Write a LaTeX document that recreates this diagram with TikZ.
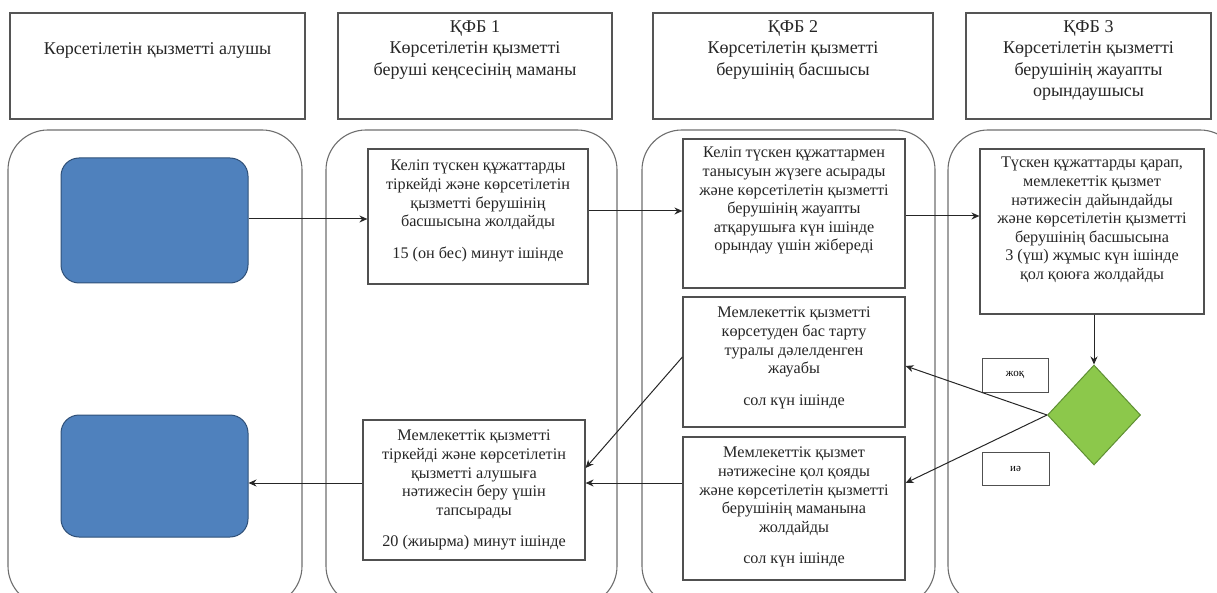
\documentclass[tikz,border=0pt]{standalone}
\usepackage{fontspec}
\setmainfont{Liberation Serif}
\usetikzlibrary{arrows.meta,shapes.geometric}
\definecolor{laneg}{HTML}{6E6E6E}
\definecolor{hdrg}{HTML}{555555}
\definecolor{boxg}{HTML}{505050}
\definecolor{bluef}{HTML}{4F81BD}
\definecolor{blued}{HTML}{2F5078}
\definecolor{greenf}{HTML}{8CC84B}
\definecolor{greend}{HTML}{5E8F33}
\tikzset{
  lane/.style={draw=laneg, line width=1.1pt, rounded corners=40pt},
  hdr/.style={draw=hdrg, line width=1.4pt, fill=white, inner sep=0pt},
  stepbox/.style={draw=boxg, line width=1.2pt, fill=white, inner sep=0pt},
  bluebox/.style={draw=blued, line width=1pt, fill=bluef, rounded corners=18pt, inner sep=0pt},
  dec/.style={diamond, draw=greend, line width=1pt, fill=greenf, aspect=0.93, inner sep=0pt, minimum width=93pt, minimum height=100pt},
  lbl/.style={draw=boxg, line width=1pt, fill=white, inner sep=0pt, font=\fontsize{11}{13}\selectfont},
  txt/.style={align=center, anchor=north, inner sep=0pt, font=\fontsize{16.2}{18.6}\selectfont, text=black!85},
  htxt/.style={align=center, anchor=north, inner sep=0pt, font=\fontsize{18}{21.5}\selectfont, text=black!85},
  arr/.style={draw=black!85, line width=1pt, -{Stealth[length=8pt,width=7pt]}}
}
\begin{document}
\begin{tikzpicture}[x=1pt,y=-1pt]
\useasboundingbox (0,0) rectangle (1217,593);
\clip (0,0) rectangle (1217,593);
% lanes
\draw[lane] (8,130) rectangle (302,606);
\draw[lane] (326,130) rectangle (617,606);
\draw[lane] (642,130) rectangle (935,606);
\draw[lane] (948,130) rectangle (1240,606);
% headers
\node[hdr, minimum width=295pt, minimum height=106pt] (h1) at (157.5,66) {};
\node[hdr, minimum width=274pt, minimum height=106pt] (h2) at (475,66) {};
\node[hdr, minimum width=280pt, minimum height=106pt] (h3) at (793,66) {};
\node[hdr, minimum width=245pt, minimum height=106pt] (h4) at (1088.5,66) {};
\node[htxt] (h1t) at (157.5,42) {Көрсетілетін қызметті алушы};
\node[htxt] (h2t) at (475,20) {ҚФБ 1\\Көрсетілетін қызметті\\беруші кеңсесінің маманы};
\node[htxt] (h3t) at (793,20) {ҚФБ 2\\Көрсетілетін қызметті\\берушінің басшысы};
\node[htxt] (h4t) at (1088.5,20) {ҚФБ 3\\Көрсетілетін қызметті\\берушінің жауапты\\орындаушысы};
% blue boxes
\node[bluebox, minimum width=187pt, minimum height=125pt] (B1) at (154.5,220.5) {};
\node[bluebox, minimum width=187pt, minimum height=122pt] (B2) at (154.5,476) {};
% step boxes
\node[stepbox, minimum width=220pt, minimum height=135pt] (A) at (478,216.5) {};
\node[txt] (At) at (478,160) {Келіп түскен құжаттарды\\тіркейді және көрсетілетін\\қызметті берушінің\\басшысына жолдайды\\[13pt]15 (он бес) минут ішінде};
\node[stepbox, minimum width=222pt, minimum height=149pt] (B) at (794,213.5) {};
\node[txt] (Bt) at (794,147) {Келіп түскен құжаттармен\\танысуын жүзеге асырады\\және көрсетілетін қызметті\\берушінің жауапты\\атқарушыға күн ішінде\\орындау үшін жібереді};
\node[stepbox, minimum width=224pt, minimum height=165pt] (C) at (1092,231.5) {};
\node[txt] (Ct) at (1092,157) {Түскен құжаттарды қарап,\\мемлекеттік қызмет\\нәтижесін дайындайды\\және көрсетілетін қызметті\\берушінің басшысына\\3 (үш) жұмыс күн ішінде\\қол қоюға жолдайды};
\node[stepbox, minimum width=222pt, minimum height=130pt] (D) at (794,362) {};
\node[txt] (Dt) at (794,307) {Мемлекеттік қызметті\\көрсетуден бас тарту\\туралы дәлелденген\\жауабы\\[13pt]сол күн ішінде};
\node[stepbox, minimum width=222pt, minimum height=143pt] (E) at (794,508.5) {};
\node[txt] (Et) at (794,447) {Мемлекеттік қызмет\\нәтижесіне қол қояды\\және көрсетілетін қызметті\\берушінің маманына\\жолдайды\\[13pt]сол күн ішінде};
\node[stepbox, minimum width=222pt, minimum height=140pt] (F) at (474,490) {};
\node[txt] (Ft) at (474,430) {Мемлекеттік қызметті\\тіркейді және көрсетілетін\\қызметті алушыға\\нәтижесін беру үшін\\тапсырады\\[13pt]20 (жиырма) минут ішінде};
% decision
\node[dec] (dia) at (1094,415) {};
\node[lbl, minimum width=66pt, minimum height=34pt] (no) at (1015,375) {жоқ};
\node[lbl, minimum width=67pt, minimum height=33pt] (yes) at (1015.5,468.5) {иә};
% helper coordinates
\coordinate (y1) at (0,219);
\coordinate (y2) at (0,211);
\coordinate (y3) at (0,216);
\coordinate (yD) at (0,366);
\coordinate (yDw) at (0,357);
\coordinate (yFa) at (0,468);
\coordinate (yE) at (0,483);
% connectors
\draw[arr] (B1.east |- y1) -- (A.west |- y1);
\draw[arr] (A.east |- y2) -- (B.west |- y2);
\draw[arr] (B.east |- y3) -- (C.west |- y3);
\draw[arr] (dia.north |- C.south) -- (dia.north);
\draw[arr] (dia.west) -- (D.east |- yD);
\draw[arr] (dia.west) -- (E.east |- yE);
\draw[arr] (D.west |- yDw) -- (F.east |- yFa);
\draw[arr] (E.west |- yE) -- (F.east |- yE);
\draw[arr] (F.west |- yE) -- (B2.east |- yE);
\end{tikzpicture}
\end{document}
